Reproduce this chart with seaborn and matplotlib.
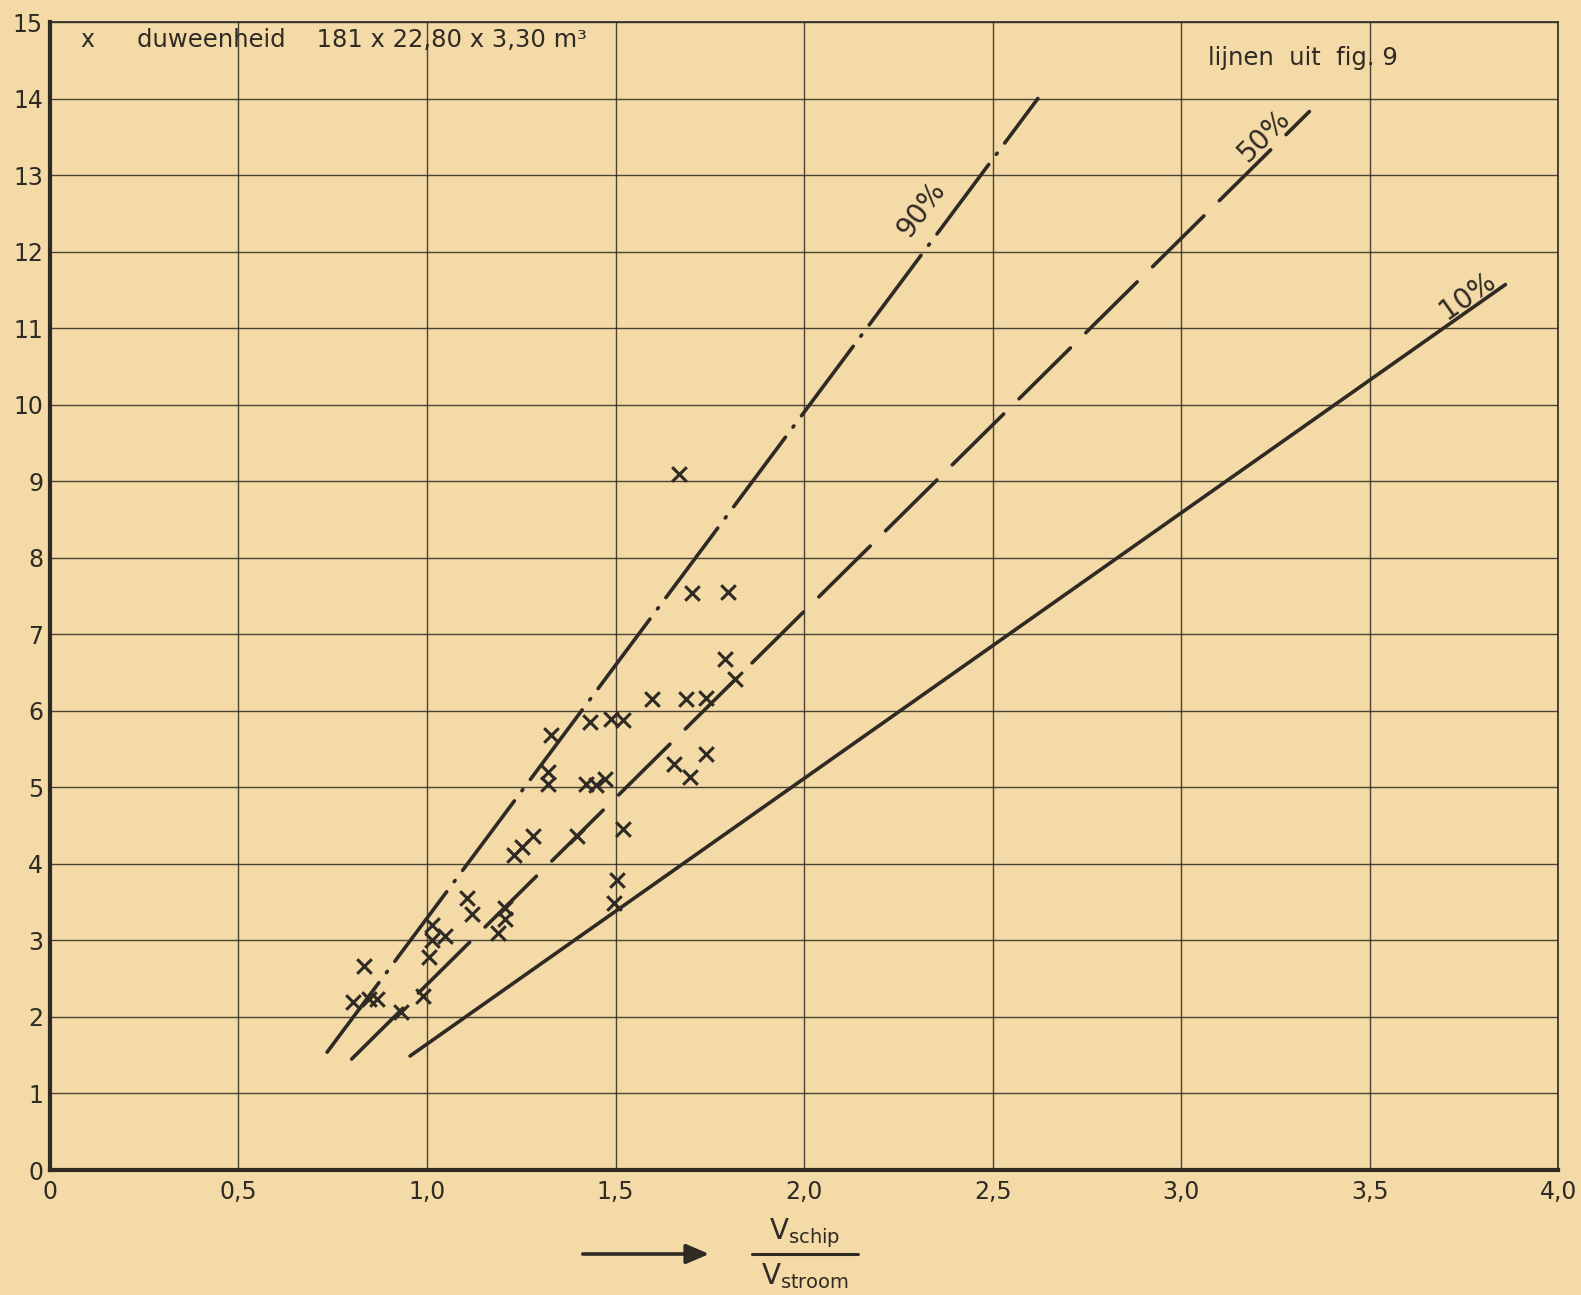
import numpy as np
import pandas as pd
import matplotlib
matplotlib.use("Agg")
import matplotlib.pyplot as plt
from matplotlib.lines import Line2D
import seaborn as sns

# ---- data ----
pts_x = [1.668, 1.703, 1.797, 1.789, 1.816, 1.596, 1.687, 1.741, 1.329, 1.433,
         1.489, 1.519, 1.741, 1.655, 1.698, 1.321, 1.321, 1.422, 1.449, 1.473,
         1.521, 1.398, 1.281, 1.251, 1.230, 1.503, 1.495, 1.107, 1.120, 1.206,
         1.206, 1.187, 1.048, 1.013, 1.013, 1.005, 0.989, 0.930, 0.834, 0.805,
         0.845, 0.866]
pts_y = [9.09, 7.54, 7.55, 6.68, 6.42, 6.15, 6.15, 6.17, 5.68, 5.85,
         5.89, 5.88, 5.43, 5.30, 5.13, 5.20, 5.05, 5.05, 5.03, 5.11,
         4.45, 4.37, 4.36, 4.22, 4.12, 3.79, 3.49, 3.56, 3.35, 3.43,
         3.28, 3.10, 3.06, 3.20, 3.00, 2.79, 2.27, 2.07, 2.66, 2.20,
         2.24, 2.24]

line90_x = [0.735, 2.62]
line90_y = [1.54, 14.0]
line50_x = [0.80, 3.34]
line50_y = [1.45, 13.83]
line10_x = [0.955, 3.86]
line10_y = [1.49, 11.57]

x_ticks = [0, 0.5, 1.0, 1.5, 2.0, 2.5, 3.0, 3.5, 4.0]
x_tick_labels = ["0", "0,5", "1,0", "1,5", "2,0", "2,5", "3,0", "3,5", "4,0"]
y_ticks = list(range(0, 16))
y_tick_labels = [str(v) for v in y_ticks]

legend_text = "duweenheid    181 x 22,80 x 3,30 m³"
source_text = "lijnen  uit  fig. 9"
labels = ["90%", "50%", "10%"]

# ---- styling ----
BG = "#f3daa6"
INK = "#2f2a24"
sns.set_theme(style="white")
plt.rcParams["font.family"] = ["DejaVu Sans"]
plt.rcParams["mathtext.fontset"] = "dejavusans"

fig = plt.figure(figsize=(15.81, 12.95), dpi=100, facecolor=BG)
ax = fig.add_axes([0.0316, 0.0965, 0.954, 0.8865])
ax.set_facecolor(BG)

df = pd.DataFrame({"x": pts_x, "y": pts_y})
sns.scatterplot(data=df, x="x", y="y", marker="x", s=110, color=INK,
                linewidth=2.2, ax=ax, zorder=5)

lines = pd.concat([
    pd.DataFrame({"x": line90_x, "y": line90_y, "k": "90%"}),
    pd.DataFrame({"x": line50_x, "y": line50_y, "k": "50%"}),
    pd.DataFrame({"x": line10_x, "y": line10_y, "k": "10%"}),
])
styles = {"90%": (0, (24, 3.5, 0.4, 3.5)), "50%": (0, (20, 6)), "10%": "-"}
for k, g in lines.groupby("k", sort=False):
    sns.lineplot(data=g, x="x", y="y", ax=ax, color=INK, linewidth=2.6,
                 linestyle=styles[k], sort=False, estimator=None, legend=False,
                 zorder=4, dash_capstyle="round")

ax.set_xlim(0, 4.0)
ax.set_ylim(0, 15)
ax.set_xticks(x_ticks)
ax.set_xticklabels(x_tick_labels)
ax.set_yticks(y_ticks)
ax.set_yticklabels(y_tick_labels)
ax.tick_params(axis="both", length=0, labelsize=17, colors=INK)
ax.tick_params(axis="x", pad=7)
ax.tick_params(axis="y", pad=5)
ax.grid(True, color=INK, linewidth=1.0, alpha=0.85)
ax.set_axisbelow(True)
for s in ["top", "right"]:
    ax.spines[s].set_color(INK)
    ax.spines[s].set_linewidth(1.2)
for s in ["left", "bottom"]:
    ax.spines[s].set_color(INK)
    ax.spines[s].set_linewidth(3.0)
ax.set_xlabel("")
ax.set_ylabel("")

# line labels rotated along the lines
for lab, lx, ly, tx, ty in [
    ("90%", line90_x, line90_y, 2.31, 12.55),
    ("50%", line50_x, line50_y, 3.22, 13.52),
    ("10%", line10_x, line10_y, 3.76, 11.42),
]:
    slope = (ly[1] - ly[0]) / (lx[1] - lx[0])
    ax.text(tx, ty, lab, rotation=np.degrees(np.arctan(slope)),
            transform_rotates_text=True, rotation_mode="anchor",
            ha="center", va="center", fontsize=20, color=INK, zorder=6)

# header texts
ax.text(0.10, 14.76, "x", fontsize=17, color=INK, ha="center", va="center")
ax.text(0.23, 14.76, legend_text, fontsize=17.5, color=INK, ha="left", va="center")
ax.text(3.07, 14.53, source_text, fontsize=17.5, color=INK, ha="left", va="center")

# x-axis label: arrow + fraction
fig.add_artist(matplotlib.patches.FancyArrowPatch(
    (580 / 1581, 1 - 1254 / 1295), (712 / 1581, 1 - 1254 / 1295),
    transform=fig.transFigure, arrowstyle="-|>,head_length=14,head_width=6",
    color=INK, linewidth=2.6, mutation_scale=1))
fig.add_artist(Line2D([752 / 1581, 858 / 1581], [1 - 1254 / 1295, 1 - 1254 / 1295],
                      transform=fig.transFigure, color=INK, linewidth=2.2))
fig.text(805 / 1581, 1 - 1233 / 1295, r"$\mathregular{V_{schip}}$", fontsize=20,
         color=INK, ha="center", va="center")
fig.text(805 / 1581, 1 - 1276 / 1295, r"$\mathregular{V_{stroom}}$", fontsize=20,
         color=INK, ha="center", va="center")

fig.savefig("out.png", dpi=100, facecolor=BG)
